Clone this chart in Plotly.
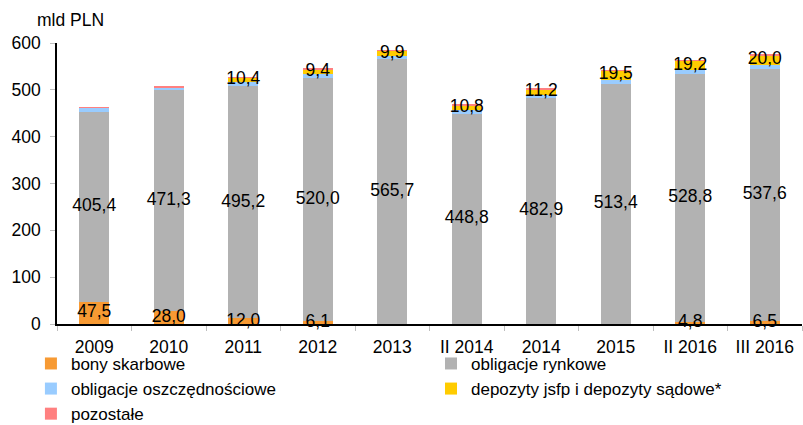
import numpy as np
import plotly.graph_objects as go

categories = ["2009", "2010", "2011", "2012", "2013", "II 2014", "2014", "2015", "II 2016", "III 2016"]

bony_skarbowe = [47.5, 28.0, 12.0, 6.1, 0.0, 0.0, 0.0, 0.0, 4.8, 6.5]
obligacje_rynkowe = [405.4, 471.3, 495.2, 520.0, 565.7, 448.8, 482.9, 513.4, 528.8, 537.6]
obligacje_oszczednosciowe = [8.5, 6.5, 9.0, 8.5, 7.5, 8.0, 7.0, 8.5, 9.0, 10.0]
depozyty = [0.0, 0.0, 10.4, 9.4, 9.9, 10.8, 11.2, 19.5, 19.2, 20.0]
pozostale = [1.5, 1.5, 0.6, 0.6, 0.8, 0.8, 0.8, 0.8, 0.8, 0.8]

# name, values, colour, value labels shown, legend column
series = [
    ("bony skarbowe", bony_skarbowe, "#F79A33", True, "legend"),
    ("obligacje rynkowe", obligacje_rynkowe, "#B2B2B2", True, "legend2"),
    ("obligacje oszczędnościowe", obligacje_oszczednosciowe, "#99CCFF", False, "legend"),
    ("depozyty jsfp i depozyty sądowe*", depozyty, "#FFCC00", True, "legend2"),
    ("pozostałe", pozostale, "#FF8080", False, "legend"),
]

FONT = "Liberation Sans, Arial, sans-serif"
FS = 17.5
LEG_FS = 17

fig = go.Figure()
base = np.zeros(len(categories))
label_x, label_y, label_t = [], [], []
for name, vals, color, labelled, leg in series:
    v = np.array(vals, dtype=float)
    fig.add_trace(go.Bar(
        name=name, x=categories, y=v, legend=leg,
        marker=dict(color=color, line=dict(width=0)),
    ))
    if labelled:
        for c, b, val in zip(categories, base, v):
            if val > 0:
                label_x.append(c)
                label_y.append(b + val / 2)
                label_t.append(f"{val:.1f}".replace(".", ","))
    base = base + v

fig.add_trace(go.Scatter(
    x=label_x, y=label_y, text=label_t, mode="text",
    textposition="middle center", textfont=dict(family=FONT, size=FS, color="black"),
    showlegend=False, cliponaxis=False, hoverinfo="skip",
))

legend_style = dict(
    orientation="v", xanchor="left", yanchor="top", y=-0.078,
    traceorder="normal", font=dict(family=FONT, size=LEG_FS, color="black"),
    itemclick=False, bgcolor="rgba(0,0,0,0)", borderwidth=0, tracegroupgap=0,
)

fig.update_layout(
    barmode="stack",
    bargap=0.6,
    width=803, height=425,
    margin=dict(l=57, r=1, t=43, b=101, autoexpand=False),
    paper_bgcolor="white", plot_bgcolor="white",
    font=dict(family=FONT, size=FS, color="black"),
    separators=", ",
    legend=dict(x=-0.035, **legend_style),
    legend2=dict(x=0.502, **legend_style),
    annotations=[dict(
        text="mld PLN", xref="paper", yref="paper", x=-0.03, y=1.04,
        xanchor="left", yanchor="bottom", showarrow=False,
        font=dict(family=FONT, size=FS),
    )],
)

fig.update_xaxes(
    type="category", showline=True, linecolor="black", linewidth=1.5,
    ticks="outside", tickson="boundaries", ticklen=5, tickcolor="#BFBFBF",
    showgrid=False, ticklabelstandoff=6,
)
fig.update_yaxes(
    range=[0, 600], dtick=100, showline=True, linecolor="black", linewidth=1.5,
    ticks="outside", ticklen=5, tickcolor="#BFBFBF", showgrid=False, zeroline=False,
    ticklabelstandoff=6,
)

fig.write_html("out.html")
